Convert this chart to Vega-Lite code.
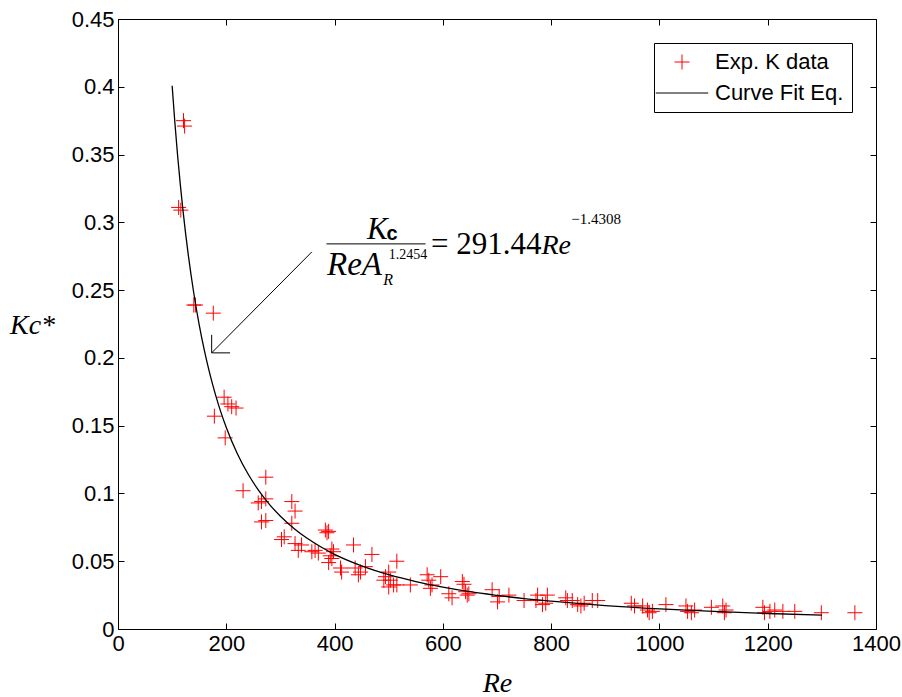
{
  "$schema": "https://vega.github.io/schema/vega-lite/v6.json",
  "width": 758,
  "height": 610,
  "autosize": {"type": "none"},
  "padding": {"left": 118, "top": 19, "right": 26, "bottom": 68},
  "background": "white",
  "config": {
    "view": {"stroke": "#000", "strokeWidth": 1},
    "axis": {
      "labelFont": "Liberation Sans",
      "labelFontSize": 22,
      "labelColor": "#000",
      "tickColor": "#000",
      "domainColor": "#000",
      "grid": false,
      "titleColor": "#000",
      "labelFlush": false,
      "labelOverlap": false
    },
    "legend": {
      "labelFont": "Liberation Sans",
      "labelFontSize": 22,
      "labelColor": "#000",
      "strokeColor": "#000",
      "fillColor": "white",
      "padding": 8,
      "symbolSize": 225,
      "symbolStrokeWidth": 1,
      "symbolOffset": 9,
      "labelOffset": 22,
      "rowPadding": 9,
      "cornerRadius": 0
    }
  },
  "resolve": {"axis": {"x": "independent", "y": "independent"}},
  "layer": [
    {
      "data": {"values": [
        {"Re":112,"K":0.311},{"Re":116,"K":0.309},{"Re":121,"K":0.375},{"Re":123,"K":0.371},
        {"Re":140,"K":0.239},{"Re":143,"K":0.239},{"Re":176,"K":0.233},{"Re":178,"K":0.157},
        {"Re":198,"K":0.141},{"Re":196,"K":0.171},{"Re":203,"K":0.166},{"Re":210,"K":0.164},
        {"Re":218,"K":0.163},{"Re":231,"K":0.102},
        {"Re":259,"K":0.093},{"Re":265,"K":0.094},{"Re":273,"K":0.096},{"Re":273,"K":0.112},
        {"Re":265,"K":0.079},{"Re":273,"K":0.080},{"Re":302,"K":0.066},{"Re":307,"K":0.068},
        {"Re":321,"K":0.094},{"Re":327,"K":0.087},{"Re":321,"K":0.078},{"Re":327,"K":0.063},
        {"Re":339,"K":0.062},{"Re":333,"K":0.058},
        {"Re":358,"K":0.057},{"Re":364,"K":0.058},{"Re":370,"K":0.056},{"Re":383,"K":0.073},
        {"Re":386,"K":0.071},{"Re":389,"K":0.072},{"Re":392,"K":0.054},{"Re":395,"K":0.059},
        {"Re":398,"K":0.057},{"Re":395,"K":0.052},{"Re":389,"K":0.049},{"Re":411,"K":0.045},
        {"Re":413,"K":0.042},{"Re":435,"K":0.062},{"Re":438,"K":0.045},{"Re":444,"K":0.040},
        {"Re":448,"K":0.042},{"Re":457,"K":0.046},{"Re":469,"K":0.055},
        {"Re":491,"K":0.036},{"Re":494,"K":0.0386},{"Re":500,"K":0.042},{"Re":500,"K":0.031},
        {"Re":503,"K":0.036},{"Re":509,"K":0.0325},{"Re":515,"K":0.0325},{"Re":515,"K":0.050},
        {"Re":540,"K":0.0325},{"Re":571,"K":0.040},{"Re":574,"K":0.036},{"Re":577,"K":0.030},
        {"Re":580,"K":0.0325},{"Re":596,"K":0.0386},
        {"Re":611,"K":0.026},{"Re":617,"K":0.023},{"Re":636,"K":0.035},{"Re":639,"K":0.033},
        {"Re":642,"K":0.0275},{"Re":648,"K":0.026},{"Re":645,"K":0.025},{"Re":691,"K":0.029},
        {"Re":704,"K":0.024},{"Re":701,"K":0.020},{"Re":722,"K":0.025},{"Re":750,"K":0.021},
        {"Re":772,"K":0.021},{"Re":775,"K":0.025},{"Re":784,"K":0.018},{"Re":793,"K":0.025},
        {"Re":790,"K":0.019},
        {"Re":827,"K":0.023},{"Re":830,"K":0.021},{"Re":839,"K":0.021},{"Re":849,"K":0.018},
        {"Re":855,"K":0.017},{"Re":861,"K":0.019},{"Re":876,"K":0.021},{"Re":886,"K":0.021},
        {"Re":948,"K":0.019},{"Re":954,"K":0.017},{"Re":969,"K":0.017},{"Re":978,"K":0.014},
        {"Re":981,"K":0.012},{"Re":987,"K":0.013},{"Re":1012,"K":0.018},{"Re":1049,"K":0.017},
        {"Re":1052,"K":0.013},{"Re":1059,"K":0.012},{"Re":1065,"K":0.014},{"Re":1096,"K":0.016},
        {"Re":1117,"K":0.017},{"Re":1120,"K":0.012},{"Re":1123,"K":0.014},{"Re":1191,"K":0.016},
        {"Re":1194,"K":0.012},{"Re":1204,"K":0.013},{"Re":1213,"K":0.014},{"Re":1228,"K":0.013},
        {"Re":1250,"K":0.013},{"Re":1299,"K":0.012},{"Re":1361,"K":0.012}
      ]},
      "mark": {"type": "point", "filled": false, "size": 225, "strokeWidth": 1, "opacity": 1},
      "encoding": {
        "x": {"field": "Re", "type": "quantitative",
          "scale": {"domain": [0, 1400], "nice": false, "zero": false},
          "axis": {"orient": "bottom", "values": [0,200,400,600,800,1000,1200,1400], "format": "d",
            "tickSize": -6, "labelPadding": 10, "domain": false,
            "title": "Re", "titleFont": "Liberation Serif", "titleFontStyle": "italic",
            "titleFontWeight": "normal", "titleFontSize": 28, "titlePadding": 15}},
        "y": {"field": "K", "type": "quantitative",
          "scale": {"domain": [0, 0.45], "nice": false, "zero": false},
          "axis": {"orient": "left", "values": [0,0.05,0.1,0.15,0.2,0.25,0.3,0.35,0.4,0.45], "format": "~g",
            "tickSize": -6, "labelPadding": 10, "domain": false,
            "title": "Kc*", "titleFont": "Liberation Serif", "titleFontStyle": "italic",
            "titleFontWeight": "normal", "titleFontSize": 28, "titleAngle": 0,
            "titleAlign": "center", "titleBaseline": "middle", "titleX": -86, "titleY": 306}},
        "color": {"datum": "Exp. K data", "type": "nominal",
          "scale": {"domain": ["Exp. K data", "Curve Fit Eq."], "range": ["#ff0000", "#000000"]},
          "legend": {"title": null, "orient": "top-right", "offset": 24}},
        "shape": {"datum": "Exp. K data", "type": "nominal",
          "scale": {"domain": ["Exp. K data", "Curve Fit Eq."], "range": ["M-1,0L1,0M0,-1L0,1", "M-3.5,0L3.5,0"]},
          "legend": {"title": null, "orient": "top-right", "offset": 24}}
      }
    },
    {
      "data": {"values": [
        {"Re":100,"K":0.4008},{"Re":105,"K":0.3738},{"Re":110,"K":0.3497},{"Re":115,"K":0.3282},
        {"Re":120,"K":0.3088},{"Re":130,"K":0.2754},{"Re":140,"K":0.2477},{"Re":150,"K":0.2244},
        {"Re":160,"K":0.2046},{"Re":170,"K":0.1876},{"Re":180,"K":0.1729},{"Re":190,"K":0.1600},
        {"Re":200,"K":0.1487},{"Re":220,"K":0.1297},{"Re":240,"K":0.1145},{"Re":260,"K":0.1021},
        {"Re":280,"K":0.0918},{"Re":300,"K":0.0832},{"Re":325,"K":0.0742},{"Re":350,"K":0.0667},
        {"Re":375,"K":0.0605},{"Re":400,"K":0.0551},{"Re":450,"K":0.0466},{"Re":500,"K":0.0401},
        {"Re":550,"K":0.0350},{"Re":600,"K":0.0309},{"Re":650,"K":0.0275},{"Re":700,"K":0.0248},
        {"Re":750,"K":0.0224},{"Re":800,"K":0.0205},{"Re":900,"K":0.0173},{"Re":1000,"K":0.01486},
        {"Re":1100,"K":0.01296},{"Re":1200,"K":0.01145},{"Re":1300,"K":0.01021}
      ]},
      "mark": {"type": "line", "strokeWidth": 1.3, "interpolate": "monotone"},
      "encoding": {
        "x": {"field": "Re", "type": "quantitative",
          "scale": {"domain": [0, 1400], "nice": false, "zero": false},
          "axis": {"orient": "top", "values": [0,200,400,600,800,1000,1200,1400], "labels": false,
            "tickSize": -6, "domain": false, "title": null}},
        "y": {"field": "K", "type": "quantitative",
          "scale": {"domain": [0, 0.45], "nice": false, "zero": false},
          "axis": {"orient": "right", "values": [0,0.05,0.1,0.15,0.2,0.25,0.3,0.35,0.4,0.45], "labels": false,
            "tickSize": -6, "domain": false, "title": null}},
        "color": {"datum": "Curve Fit Eq.", "type": "nominal",
          "scale": {"domain": ["Exp. K data", "Curve Fit Eq."], "range": ["#ff0000", "#000000"]},
          "legend": {"title": null, "orient": "top-right", "offset": 24}}
      }
    },
    {
      "data": {"values": [
        {"Re":358,"K":0.2782,"Re2":173,"K2":0.2037},
        {"Re":173,"K":0.217,"Re2":173,"K2":0.2037},
        {"Re":173,"K":0.2037,"Re2":207,"K2":0.2037},
        {"Re":385,"K":0.2841,"Re2":568,"K2":0.2841}
      ]},
      "mark": {"type": "rule", "color": "#000", "strokeWidth": 1},
      "encoding": {
        "x": {"field": "Re", "type": "quantitative", "axis": null},
        "y": {"field": "K", "type": "quantitative", "axis": null},
        "x2": {"field": "Re2"},
        "y2": {"field": "K2"}
      }
    },
    {
      "data": {"values": [
        {"Re":460,"K":0.2878,"t":"K"}
      ]},
      "mark": {"type": "text", "font": "Liberation Serif", "fontStyle": "italic", "fontSize": 31, "align": "left", "baseline": "alphabetic", "color": "#000"},
      "encoding": {
        "x": {"field": "Re", "type": "quantitative", "axis": null},
        "y": {"field": "K", "type": "quantitative", "axis": null},
        "text": {"field": "t"}
      }
    },
    {
      "data": {"values": [
        {"Re":386,"K":0.2613,"t":"ReA"}
      ]},
      "mark": {"type": "text", "font": "Liberation Serif", "fontStyle": "italic", "fontSize": 33, "align": "left", "baseline": "alphabetic", "color": "#000"},
      "encoding": {
        "x": {"field": "Re", "type": "quantitative", "axis": null},
        "y": {"field": "K", "type": "quantitative", "axis": null},
        "text": {"field": "t"}
      }
    },
    {
      "data": {"values": [
        {"Re":782,"K":0.2768,"t":"Re"}
      ]},
      "mark": {"type": "text", "font": "Liberation Serif", "fontStyle": "italic", "fontSize": 28, "align": "left", "baseline": "alphabetic", "color": "#000"},
      "encoding": {
        "x": {"field": "Re", "type": "quantitative", "axis": null},
        "y": {"field": "K", "type": "quantitative", "axis": null},
        "text": {"field": "t"}
      }
    },
    {
      "data": {"values": [
        {"Re":578,"K":0.2768,"t":"= 291.44"}
      ]},
      "mark": {"type": "text", "font": "Liberation Serif", "fontSize": 31, "align": "left", "baseline": "alphabetic", "color": "#000"},
      "encoding": {
        "x": {"field": "Re", "type": "quantitative", "axis": null},
        "y": {"field": "K", "type": "quantitative", "axis": null},
        "text": {"field": "t"}
      }
    },
    {
      "data": {"values": [
        {"Re":837,"K":0.2989,"t":"−1.4308"}
      ]},
      "mark": {"type": "text", "font": "Liberation Serif", "fontSize": 15, "align": "left", "baseline": "alphabetic", "color": "#000"},
      "encoding": {
        "x": {"field": "Re", "type": "quantitative", "axis": null},
        "y": {"field": "K", "type": "quantitative", "axis": null},
        "text": {"field": "t"}
      }
    },
    {
      "data": {"values": [
        {"Re":500,"K":0.2731,"t":"1.2454"}
      ]},
      "mark": {"type": "text", "font": "Liberation Serif", "fontSize": 14, "align": "left", "baseline": "alphabetic", "color": "#000"},
      "encoding": {
        "x": {"field": "Re", "type": "quantitative", "axis": null},
        "y": {"field": "K", "type": "quantitative", "axis": null},
        "text": {"field": "t"}
      }
    },
    {
      "data": {"values": [
        {"Re":490,"K":0.2539,"t":"R"}
      ]},
      "mark": {"type": "text", "font": "Liberation Serif", "fontStyle": "italic", "fontSize": 16, "align": "left", "baseline": "alphabetic", "color": "#000"},
      "encoding": {
        "x": {"field": "Re", "type": "quantitative", "axis": null},
        "y": {"field": "K", "type": "quantitative", "axis": null},
        "text": {"field": "t"}
      }
    },
    {
      "data": {"values": [
        {"Re":496,"K":0.2871,"t":"c"}
      ]},
      "mark": {"type": "text", "font": "Liberation Sans", "fontWeight": "bold", "fontSize": 20, "align": "left", "baseline": "alphabetic", "color": "#000"},
      "encoding": {
        "x": {"field": "Re", "type": "quantitative", "axis": null},
        "y": {"field": "K", "type": "quantitative", "axis": null},
        "text": {"field": "t"}
      }
    }
  ]
}
